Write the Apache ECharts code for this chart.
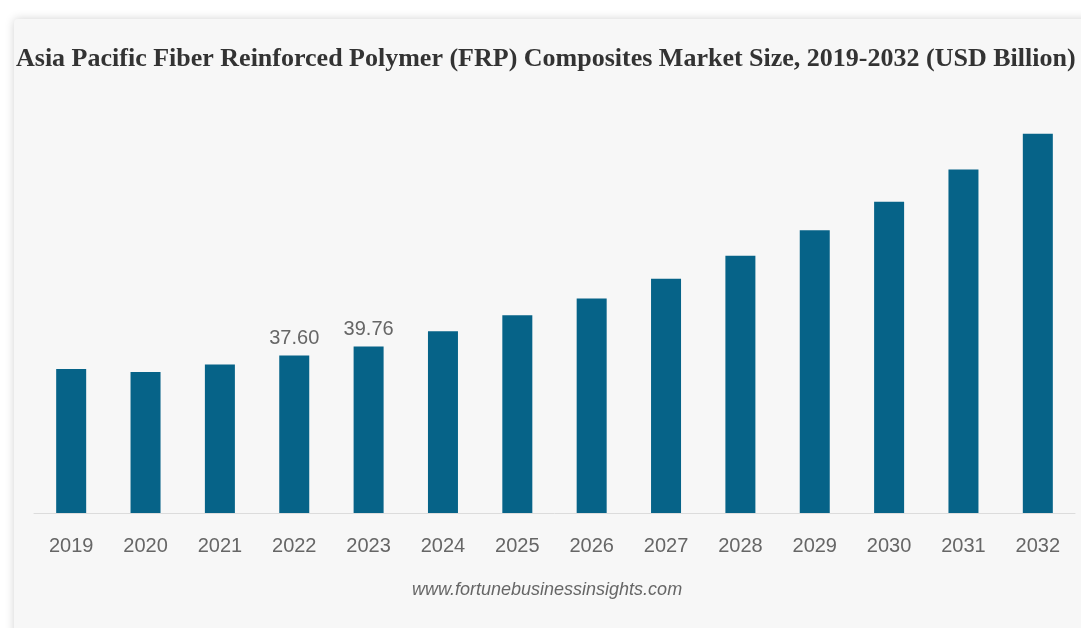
<!DOCTYPE html>
<html>
<head>
<meta charset="utf-8">
<script src="https://cdn.jsdelivr.net/npm/echarts@6/dist/echarts.min.js"></script>
<style>
  html, body { margin: 0; padding: 0; background: #fff; }
  #main { width: 1081px; height: 628px; }
</style>
</head>
<body>
<div id="main"></div>
<script>
var years = ['2019', '2020', '2021', '2022', '2023', '2024', '2025', '2026', '2027', '2028', '2029', '2030', '2031', '2032'];
var marketSize = [34.37, 33.65, 35.47, 37.60, 39.76, 43.4, 47.2, 51.2, 55.9, 61.4, 67.5, 74.3, 82.0, 90.5];
var labelledYears = ['2022', '2023'];

var chart = echarts.init(document.getElementById('main'), null, { renderer: 'canvas' });

var option = {
  backgroundColor: '#fff',
  graphic: [{
    type: 'rect',
    z: -10,
    shape: { x: 14, y: 19, width: 1080, height: 620, r: 4 },
    style: {
      fill: '#f7f7f7',
      shadowBlur: 10,
      shadowColor: 'rgba(0,0,0,0.18)'
    },
    silent: true
  }, {
    type: 'text',
    left: 412,
    top: 581,
    style: {
      text: 'www.fortunebusinessinsights.com',
      fill: '#666',
      font: 'italic 18px "Liberation Sans", Arial, sans-serif'
    }
  }],
  title: {
    text: 'Asia Pacific Fiber Reinforced Polymer (FRP) Composites Market Size, 2019-2032 (USD Billion)',
    left: 11,
    top: 41,
    textStyle: {
      fontFamily: '"Liberation Serif", "Times New Roman", serif',
      fontWeight: 'bold',
      fontSize: 26,
      color: '#333'
    }
  },
  grid: { left: 34, right: 6, top: 94, bottom: 115, containLabel: false },
  xAxis: {
    type: 'category',
    data: years,
    axisLine: { lineStyle: { color: '#dcdcdc', width: 1 } },
    axisTick: { show: false },
    axisLabel: {
      color: '#666',
      fontSize: 20,
      fontFamily: '"Liberation Sans", Arial, sans-serif',
      margin: 23
    }
  },
  yAxis: {
    type: 'value',
    min: 0,
    max: 100,
    show: false,
    splitLine: { show: false }
  },
  series: [{
    type: 'bar',
    data: marketSize,
    barWidth: 30,
    itemStyle: { color: '#066388' },
    label: {
      show: true,
      position: 'top',
      distance: 7,
      color: '#666',
      fontSize: 20,
      fontFamily: '"Liberation Sans", Arial, sans-serif',
      formatter: function (p) {
        return labelledYears.indexOf(p.name) >= 0 ? p.value.toFixed(2) : '';
      }
    }
  }]
};

chart.setOption(option);
</script>
</body>
</html>
